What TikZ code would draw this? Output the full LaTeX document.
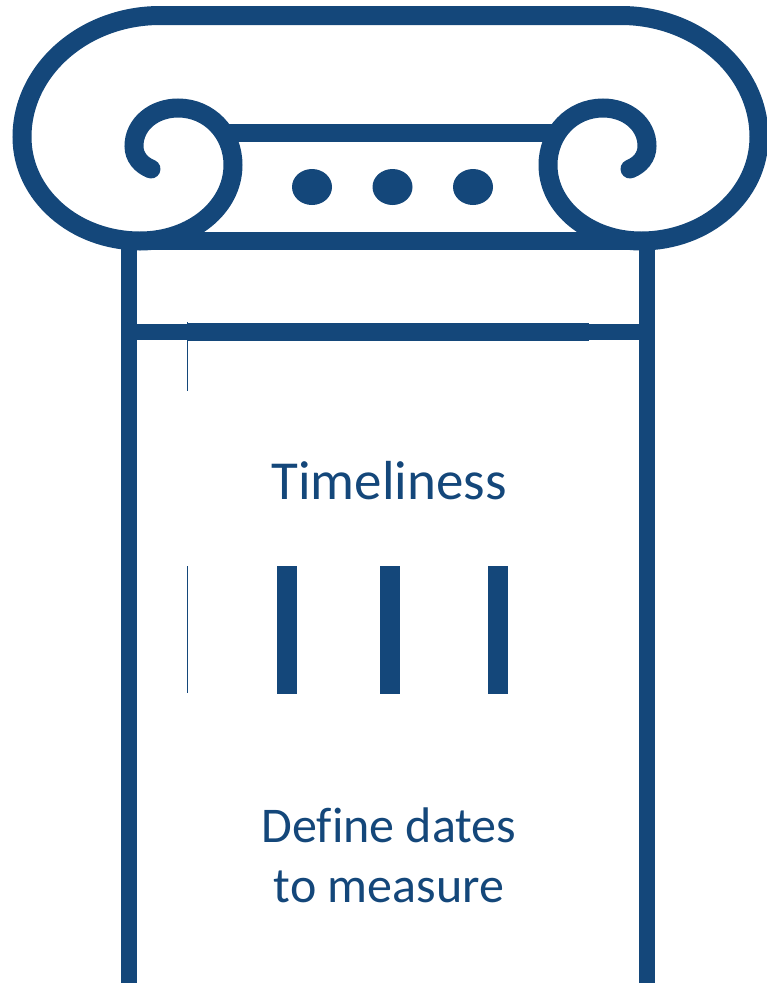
\documentclass[tikz,border=0pt]{standalone}
\usepackage{fontspec}
\setmainfont[Ligatures=NoCommon]{Carlito}
\definecolor{navy}{HTML}{14477A}
\tikzset{
  heavy/.style={draw=navy,line width=18pt,line cap=butt},
  pillar/.style={draw=navy,line width=16pt},
  hair/.style={draw=navy,line width=1pt},
  dot/.style={fill=navy,draw=none},
  bar/.style={fill=navy,draw=none},
  label/.style={text=navy,align=center,inner sep=0pt}
}
\begin{document}
\begin{tikzpicture}[x=1pt,y=-1pt]
\useasboundingbox (0,0) rectangle (767,983);
% shafts
\draw[pillar] (129,240) -- (129,983);
\draw[pillar] (647,240) -- (647,983);
\draw[pillar] (129,332) -- (647,332);
\draw[heavy] (188,332) -- (589,332);
\draw[hair] (187.5,322) -- (187.5,391);
\draw[hair] (187.5,566) -- (187.5,693);
% capital
\draw[heavy,line join=round] (229,133) -- (552,133);
\draw[heavy] (140,241) -- (641,241);
\draw[draw=navy,line width=19pt,line cap=round]
  (151,169) .. controls (141,165) and (134,157) .. (134,146)
  .. controls (134,124) and (154,108) .. (178,108)
  .. controls (209,108) and (233,133) .. (233,165)
  .. controls (233,207) and (192,241) .. (140,241)
  .. controls (75,241) and (22,195) .. (22,137)
  .. controls (22,70) and (84,15.5) .. (160,15.5)
  -- (621,15.5)
  .. controls (697,15.5) and (759,70) .. (759,137)
  .. controls (759,195) and (706,241) .. (641,241)
  .. controls (589,241) and (548,207) .. (548,165)
  .. controls (548,133) and (572,108) .. (603,108)
  .. controls (627,108) and (647,124) .. (647,146)
  .. controls (647,157) and (640,165) .. (630,169);
% dots
\fill[dot] (312,187) ellipse [x radius=20,y radius=18];
\fill[dot] (392.5,187) ellipse [x radius=20,y radius=18];
\fill[dot] (473,187) ellipse [x radius=20,y radius=18];
% bars
\fill[bar] (277,566) rectangle (297,693.5);
\fill[bar] (380,566) rectangle (400,693.5);
\fill[bar] (488,566) rectangle (508,693.5);
% text
\node[label,font=\fontsize{55}{66}\selectfont] (title) at (389,481) {Timeliness};
\node[label,font=\fontsize{50}{60}\selectfont] (desc) at (389,855) {Define dates\\[0pt]to measure};
\end{tikzpicture}
\end{document}
